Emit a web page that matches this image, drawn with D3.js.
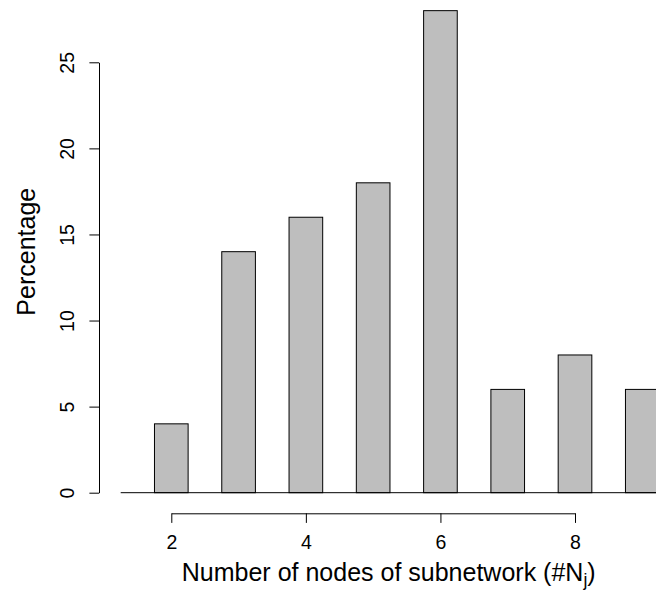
<!DOCTYPE html>
<html>
<head>
<meta charset="utf-8">
<script src="https://cdn.jsdelivr.net/npm/d3@7"></script>
<style>
  html, body { margin: 0; padding: 0; background: #fff; }
  svg { display: block; font-family: "Liberation Sans", Arial, sans-serif; }
</style>
</head>
<body>
<div id="chart"></div>
<script>
// Data: subnetwork size vs. percentage
const nodeCounts = [2, 3, 4, 5, 6, 7, 8, 9];
const percentages = [4, 14, 16, 18, 28, 6, 8, 6];
const yTicks = [0, 5, 10, 15, 20, 25];
const xTicks = [2, 4, 6, 8];

const W = 656, H = 594;

const svg = d3.select('#chart').append('svg')
  .attr('width', W)
  .attr('height', H);

const x = d3.scaleLinear().domain([2, 8]).range([171.3, 575]);
const y = d3.scaleLinear().domain([0, 25]).range([492.7, 62.3]);
const barW = (x(3) - x(2)) / 2;

// Bars
svg.selectAll('.bar')
  .data(nodeCounts.map((n, i) => ({ n, v: percentages[i] })))
  .join('rect')
  .attr('class', 'bar')
  .attr('x', d => x(d.n) - barW / 2)
  .attr('y', d => y(d.v))
  .attr('width', barW)
  .attr('height', d => y(0) - y(d.v))
  .attr('fill', '#bebebe')
  .attr('stroke', '#000')
  .attr('stroke-width', 1);

// Baseline under the bars
svg.append('line')
  .attr('x1', 120.7).attr('x2', W + 10)
  .attr('y1', y(0)).attr('y2', y(0))
  .attr('stroke', '#000')
  .attr('stroke-width', 1);

// Y axis
const yAxis = svg.append('g')
  .attr('transform', 'translate(99,0)')
  .call(d3.axisLeft(y).tickValues(yTicks).tickSize(9.6).tickSizeOuter(0).tickFormat(d3.format('d')));
yAxis.selectAll('path, line').attr('stroke', '#000');
yAxis.selectAll('text')
  .attr('x', null).attr('dy', null)
  .attr('transform', 'translate(-25,0) rotate(-90)')
  .attr('text-anchor', 'middle')
  .attr('font-size', 19.5)
  .attr('font-family', '"Liberation Sans", Arial, sans-serif')
  .attr('fill', '#000');

// X axis
const xAxis = svg.append('g')
  .attr('transform', 'translate(0,513.3)')
  .call(d3.axisBottom(x).tickValues(xTicks).tickSize(9.6).tickSizeOuter(0).tickFormat(d3.format('d')));
xAxis.selectAll('path, line').attr('stroke', '#000');
xAxis.selectAll('text')
  .attr('y', 36).attr('dy', null)
  .attr('font-size', 19.5)
  .attr('font-family', '"Liberation Sans", Arial, sans-serif')
  .attr('fill', '#000');

// Axis titles
svg.append('text')
  .attr('transform', 'translate(35,251.7) rotate(-90)')
  .attr('text-anchor', 'middle')
  .attr('font-size', 25)
  .attr('fill', '#000')
  .text('Percentage');

const xl = svg.append('text')
  .attr('x', 388.7).attr('y', 580.5)
  .attr('text-anchor', 'middle')
  .attr('font-size', 25)
  .attr('fill', '#000');
xl.append('tspan').text('Number of nodes of subnetwork (#N');
xl.append('tspan').attr('font-size', 17.5).attr('dy', 5.5).text('j');
xl.append('tspan').attr('dy', -5.5).text(')');
</script>
</body>
</html>
